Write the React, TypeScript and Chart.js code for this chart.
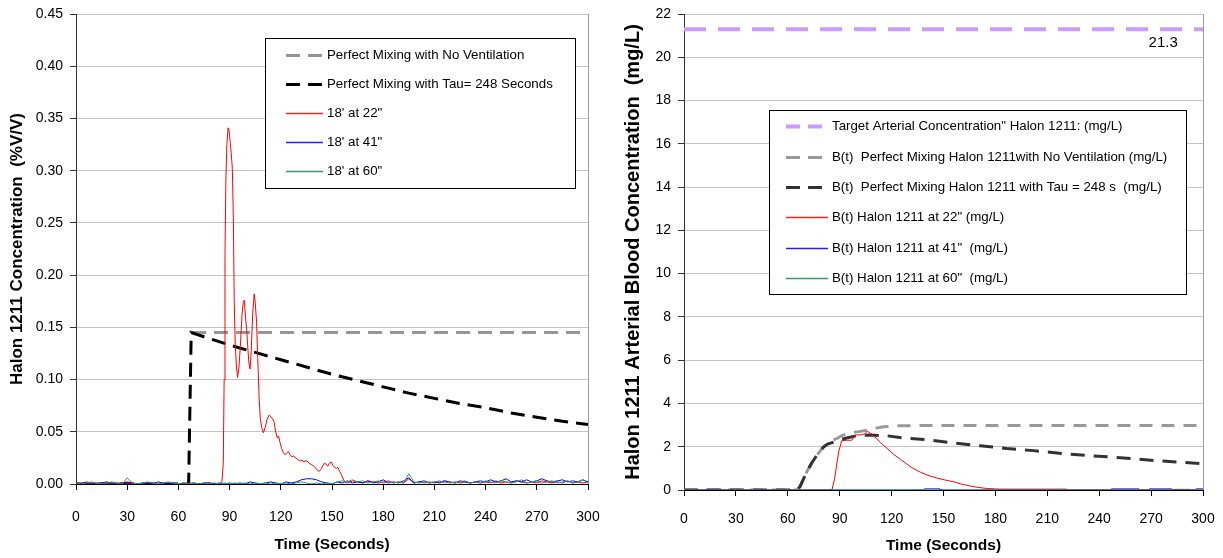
import React, { useEffect, useRef } from "react";
import { Chart, registerables } from "chart.js";

Chart.register(...registerables);

const FONT = '"Liberation Sans", Arial, Helvetica, sans-serif';

// ---------- shared axis values ----------
const X_MIN = 0;
const X_MAX = 300;
const X_STEP = 30;

// ---------- LEFT chart: Halon 1211 concentration (%V/V) ----------
const LEFT_Y_MAX = 0.45;
const LEFT_Y_STEP = 0.05;

const leftLabels = [
  "Perfect Mixing with No Ventilation",
  "Perfect Mixing with Tau= 248 Seconds",
  "18' at 22\"",
  "18' at 41\"",
  "18' at 60\"",
];

const noVentLeft: [number, number][] = [
  [68, 0.145],
  [300, 0.145],
];

const tauLeft: [number, number][] = [
  [0, 0], [66, 0], [67.5, 0.145], [75, 0.141], [90, 0.133], [105, 0.126], [120, 0.119],
  [135, 0.112], [150, 0.105], [165, 0.099], [180, 0.093], [195, 0.087], [210, 0.082],
  [225, 0.077], [240, 0.073], [255, 0.068], [270, 0.064], [285, 0.060], [300, 0.057],
];

const red22Left: [number, number][] = [
  [0, 0.001], [6, 0.0], [12, 0.001], [18, 0.0], [24, 0.001], [30, 0.001], [36, 0.0], [42, 0.001],
  [48, 0.0], [54, 0.001], [60, 0.0], [66, 0.001], [72, 0.0], [78, 0.001], [84, 0.0],
  [85.5, 0.002], [86.3, 0.02], [86.8, 0.1], [87.3, 0.22], [87.8, 0.29], [88.4, 0.325], [89.1, 0.341],
  [89.7, 0.338], [90.3, 0.328], [91, 0.316], [91.6, 0.302], [92.2, 0.255], [92.7, 0.175], [93.3, 0.135],
  [94, 0.112], [94.7, 0.102], [95.5, 0.112], [96.5, 0.138], [97.3, 0.163], [98, 0.174], [98.6, 0.176],
  [99.3, 0.16], [100, 0.148], [100.6, 0.132], [101.3, 0.116], [102, 0.11], [102.7, 0.128], [103.5, 0.162],
  [104.4, 0.182], [105, 0.174], [105.8, 0.155], [106.5, 0.12], [107.3, 0.082], [108, 0.062], [109, 0.053],
  [109.8, 0.049], [110.8, 0.054], [112, 0.062], [113.2, 0.066], [114.5, 0.064], [116, 0.06], [117, 0.05],
  [118, 0.044], [118.7, 0.046], [119.5, 0.04], [120.5, 0.034], [121.5, 0.03], [122.5, 0.028], [123.5, 0.03],
  [124.5, 0.031], [125.5, 0.028], [126.5, 0.026], [127.5, 0.027], [128.5, 0.025], [129.5, 0.024],
  [130.5, 0.023], [131.5, 0.022], [132.5, 0.023], [133.5, 0.021], [134.5, 0.022], [135.5, 0.022],
  [136.5, 0.02], [137.5, 0.019], [138.5, 0.018], [139.5, 0.017], [140.5, 0.015], [141.5, 0.013],
  [142.5, 0.012], [143.5, 0.014], [144.5, 0.017], [145.5, 0.02], [146.5, 0.019], [147.5, 0.017],
  [148.5, 0.02], [149.5, 0.021], [150.5, 0.018], [151.5, 0.016], [152.5, 0.015], [153.5, 0.016],
  [154.5, 0.012], [155.5, 0.009], [156.5, 0.005], [157.5, 0.002], [159, 0.001],
  [162, 0.003], [165, 0.002], [168, 0.001], [171, 0.003], [174, 0.002], [177, 0.001], [180, 0.002],
  [183, 0.003], [186, 0.001], [189, 0.002], [192, 0.001], [195, 0.005], [198, 0.001], [201, 0.002],
  [204, 0.001], [207, 0.002], [210, 0.001], [213, 0.002], [216, 0.003], [219, 0.001], [222, 0.002],
  [225, 0.001], [228, 0.002], [231, 0.001], [234, 0.002], [237, 0.001], [240, 0.002], [243, 0.001],
  [246, 0.003], [249, 0.001], [252, 0.002], [255, 0.001], [258, 0.003], [261, 0.002], [264, 0.001],
  [267, 0.002], [270, 0.001], [273, 0.003], [276, 0.002], [279, 0.001], [282, 0.002], [285, 0.001],
  [288, 0.003], [291, 0.001], [294, 0.002], [297, 0.001], [300, 0.002],
];

const noiseTimes = [
  0, 3, 6, 9, 12, 15, 18, 21, 24, 27,
  30, 33, 36, 39, 42, 45, 48, 51, 54, 57,
  60, 63, 66, 69, 72, 75, 78, 81, 84, 87,
  90, 93, 96, 99, 102, 105, 108, 111, 114, 117,
  120, 123, 126, 129, 132, 135, 138, 141, 144, 147,
  150, 153, 156, 159, 162, 165, 168, 171, 174, 177,
  180, 183, 186, 189, 192, 195, 198, 201, 204, 207,
  210, 213, 216, 219, 222, 225, 228, 231, 234, 237,
  240, 243, 246, 249, 252, 255, 258, 261, 264, 267,
  270, 273, 276, 279, 282, 285, 288, 291, 294, 297,
  300,
];

const blue41Left = [
  0.001, 0.0, 0.002, 0.001, 0.0, 0.001, 0.002, 0.001, 0.0, 0.001,
  0.002, 0.001, 0.0, 0.001, 0.001, 0.0, 0.002, 0.001, 0.0, 0.001,
  0.0, 0.001, 0.0, 0.001, 0.0, 0.001, 0.001, 0.0, 0.001, 0.0,
  0.001, 0.0, 0.001, 0.0, 0.002, 0.001, 0.0, 0.001, 0.002, 0.001,
  0.0, 0.002, 0.001, 0.002, 0.004, 0.005, 0.005, 0.004, 0.002, 0.001,
  0.0, 0.002, 0.001, 0.003, 0.001, 0.002, 0.001, 0.003, 0.001, 0.002,
  0.004, 0.001, 0.002, 0.001, 0.003, 0.006, 0.001, 0.002, 0.003, 0.001,
  0.002, 0.001, 0.003, 0.002, 0.001, 0.003, 0.002, 0.001, 0.002, 0.003,
  0.002, 0.004, 0.002, 0.003, 0.005, 0.002, 0.003, 0.002, 0.004, 0.002,
  0.003, 0.005, 0.003, 0.002, 0.003, 0.004, 0.002, 0.003, 0.002, 0.004,
  0.002,
];

const green60Left = [
  0.001, 0.0, 0.001, 0.002, 0.001, 0.0, 0.001, 0.002, 0.001, 0.0,
  0.006, 0.001, 0.0, 0.001, 0.002, 0.001, 0.0, 0.001, 0.002, 0.001,
  0.0, 0.001, 0.0, 0.001, 0.0, 0.001, 0.0, 0.001, 0.0, 0.001,
  0.0, 0.001, 0.0, 0.001, 0.0, 0.001, 0.0, 0.001, 0.0, 0.001,
  0.0, 0.001, 0.0, 0.001, 0.002, 0.001, 0.0, 0.001, 0.0, 0.001,
  0.0, 0.002, 0.003, 0.002, 0.004, 0.002, 0.003, 0.001, 0.002, 0.003,
  0.001, 0.002, 0.001, 0.002, 0.001, 0.01, 0.002, 0.001, 0.002, 0.001,
  0.002, 0.003, 0.001, 0.002, 0.001, 0.002, 0.003, 0.001, 0.002, 0.001,
  0.003, 0.002, 0.001, 0.003, 0.002, 0.001, 0.002, 0.004, 0.001, 0.002,
  0.003, 0.001, 0.002, 0.003, 0.001, 0.002, 0.003, 0.001, 0.002, 0.004,
  0.001,
];

// ---------- RIGHT chart: arterial blood concentration (mg/L) ----------
const RIGHT_Y_MAX = 22;
const RIGHT_Y_STEP = 2;
const TARGET_VALUE = 21.3;
const TARGET_TEXT = "21.3";
const TARGET_TEXT_AT: [number, number] = [277, 20.66];

const rightLabels = [
  "Target Arterial Concentration\" Halon 1211: (mg/L)",
  "B(t)  Perfect Mixing Halon 1211with No Ventilation (mg/L)",
  "B(t)  Perfect Mixing Halon 1211 with Tau = 248 s  (mg/L)",
  "B(t) Halon 1211 at 22\" (mg/L)",
  "B(t) Halon 1211 at 41\"  (mg/L)",
  "B(t) Halon 1211 at 60\"  (mg/L)",
];

const targetRight: [number, number][] = [
  [0, TARGET_VALUE],
  [300, TARGET_VALUE],
];

const noVentRight: [number, number][] = [
  [0, 0], [65, 0], [67, 0.15], [69, 0.5], [71, 0.85], [74, 1.27], [77, 1.63], [80.5, 1.98],
  [83, 2.15], [86, 2.3], [88.3, 2.38], [91, 2.5], [94, 2.59], [98, 2.66], [102, 2.71],
  [107.7, 2.79], [111, 2.86], [115.4, 2.92], [120, 2.95], [123, 2.97], [140, 2.98], [300, 2.98],
];

const tauRight: [number, number][] = [
  [0, 0], [65, 0], [67, 0.15], [69, 0.5], [71, 0.85], [74, 1.27], [77, 1.63], [80.5, 1.97],
  [83, 2.12], [87.4, 2.24], [90, 2.32], [94, 2.4], [99.7, 2.51], [107.7, 2.54], [117, 2.51],
  [126.7, 2.4], [142.4, 2.31], [155.8, 2.17], [171, 2.05], [186.6, 1.92], [202, 1.82],
  [221.7, 1.66], [248.8, 1.51], [273.9, 1.35], [300, 1.22],
];

const red22Right: [number, number][] = [
  [0, 0], [85.5, 0], [87, 0.5], [88.3, 1.2], [89.5, 1.8], [91.2, 2.28], [94, 2.3], [97, 2.3],
  [99, 2.54], [102.8, 2.55], [104.5, 2.6], [106, 2.72], [107, 2.66], [108.5, 2.58], [111, 2.4],
  [113.4, 2.2], [117, 1.95], [121, 1.66], [125, 1.42], [128.8, 1.2], [132, 1.02], [136.7, 0.82],
  [141, 0.68], [146.3, 0.55], [151, 0.46], [155.8, 0.38], [160, 0.28], [165.6, 0.18], [170, 0.12],
  [175, 0.07], [180, 0.05], [183, 0.04], [221, 0.04], [222, 0], [283, 0], [284, 0.03], [292, 0.03],
  [293, 0], [300, 0],
];

const blue41Right: [number, number][] = [
  [0, 0], [138.5, 0], [139, 0.05], [148, 0.05], [148.5, 0], [246.5, 0], [247, 0.05], [263, 0.05],
  [263.5, 0], [268.5, 0], [269, 0.05], [282, 0.05], [282.5, 0], [295.5, 0], [296, 0.05], [300, 0.05],
];

const green60Right: [number, number][] = [
  [0, 0],
  [300, 0],
];

// ---------- helpers ----------
const pairs = (p: [number, number][]) => p.map(([x, y]) => ({ x, y }));
const zipped = (xs: number[], ys: number[]) => xs.map((x, i) => ({ x, y: ys[i] }));

type LegendCfg = {
  box: { x: number; y: number; w: number; h: number };
  rows: number[];
  sampleX: number;
  sampleW: number;
  textX: number;
  font: string;
  colors: string[];
  widths: number[];
  dashes: number[][];
};

function boxLegend(cfg: LegendCfg) {
  return {
    id: "boxLegend",
    afterDatasetsDraw(chart: any) {
      const ctx = chart.ctx as CanvasRenderingContext2D;
      const { box, rows, sampleX, sampleW, textX, font, colors, widths, dashes } = cfg;
      ctx.save();
      ctx.fillStyle = "#ffffff";
      ctx.fillRect(box.x, box.y, box.w, box.h);
      ctx.strokeStyle = "#000000";
      ctx.lineWidth = 1;
      ctx.setLineDash([]);
      ctx.strokeRect(box.x + 0.5, box.y + 0.5, box.w, box.h);
      chart.data.datasets.forEach((ds: any, i: number) => {
        const y = Math.round(rows[i]) + 0.5;
        ctx.beginPath();
        ctx.setLineDash(dashes[i]);
        ctx.lineDashOffset = 0;
        ctx.strokeStyle = colors[i];
        ctx.lineWidth = widths[i];
        ctx.lineCap = "butt";
        ctx.moveTo(sampleX, y);
        ctx.lineTo(sampleX + sampleW, y);
        ctx.stroke();
        ctx.setLineDash([]);
        ctx.fillStyle = "#000000";
        ctx.font = font;
        ctx.textAlign = "left";
        ctx.textBaseline = "middle";
        ctx.fillText(ds.label, textX, y);
      });
      ctx.restore();
    },
  };
}

const frameRight = {
  id: "frameRight",
  beforeDatasetsDraw(chart: any) {
    const { ctx, chartArea } = chart;
    ctx.save();
    ctx.strokeStyle = "#a0a0a0";
    ctx.lineWidth = 1;
    ctx.beginPath();
    const x = Math.round(chartArea.right) + 0.5;
    ctx.moveTo(x, chartArea.top);
    ctx.lineTo(x, chartArea.bottom);
    ctx.stroke();
    ctx.restore();
  },
};

function valueText(text: string, at: [number, number]) {
  return {
    id: "valueText",
    afterDatasetsDraw(chart: any) {
      const { ctx, scales } = chart;
      ctx.save();
      ctx.fillStyle = "#000";
      ctx.font = `15px ${FONT}`;
      ctx.textAlign = "center";
      ctx.textBaseline = "middle";
      ctx.fillText(text, scales.x.getPixelForValue(at[0]), scales.y.getPixelForValue(at[1]));
      ctx.restore();
    },
  };
}

function scalesFor(opts: {
  yMax: number;
  yStep: number;
  yDecimals: number;
  yTitle: string;
  yTitleSize: number;
  yTitlePad: number;
  yWidth: number;
  xHeight: number;
  xLabelPad: number;
  xTitlePad: number;
}) {
  return {
    x: {
      type: "linear",
      min: X_MIN,
      max: X_MAX,
      ticks: {
        stepSize: X_STEP,
        color: "#000",
        padding: opts.xLabelPad,
        font: { size: 14, family: FONT },
        maxRotation: 0,
        autoSkip: false,
      },
      grid: { drawOnChartArea: false, drawTicks: true, tickLength: 6, tickColor: "#000" },
      border: { display: true, color: "#000", width: 1 },
      title: {
        display: true,
        text: "Time (Seconds)",
        color: "#000",
        font: { size: 15.5, weight: "bold", family: FONT },
        padding: { top: 0, bottom: opts.xTitlePad },
      },
      afterFit: (s: any) => {
        s.height = opts.xHeight;
        s.paddingLeft = 0;
        s.paddingRight = 0;
      },
    },
    y: {
      type: "linear",
      min: 0,
      max: opts.yMax,
      ticks: {
        stepSize: opts.yStep,
        color: "#000",
        padding: 7,
        font: { size: 14, family: FONT },
        callback: (v: any) => Number(v).toFixed(opts.yDecimals),
      },
      grid: { color: "#c4c4c4", lineWidth: 1, tickLength: 6, tickColor: "#333" },
      border: { display: true, color: "#333", width: 1 },
      title: {
        display: true,
        text: opts.yTitle,
        color: "#000",
        font: { size: opts.yTitleSize, weight: "bold", family: FONT },
        padding: { top: opts.yTitlePad, bottom: 0 },
      },
      afterFit: (s: any) => {
        s.width = opts.yWidth;
        s.paddingTop = 0;
        s.paddingBottom = 0;
      },
    },
  };
}

const baseLine = { pointRadius: 0, pointHoverRadius: 0, fill: false, tension: 0, borderCapStyle: "butt" };

function LeftChart() {
  const ref = useRef<HTMLCanvasElement>(null);
  useEffect(() => {
    if (!ref.current) return;
    const datasets = [
      { ...baseLine, label: leftLabels[0], data: pairs(noVentLeft), borderColor: "#969696", borderWidth: 3, borderDash: [14, 8], order: 5 },
      { ...baseLine, label: leftLabels[1], data: pairs(tauLeft), borderColor: "#000000", borderWidth: 3, borderDash: [14, 8], order: 4 },
      { ...baseLine, label: leftLabels[2], data: pairs(red22Left), borderColor: "#ff0000", borderWidth: 1, order: 3 },
      { ...baseLine, label: leftLabels[3], data: zipped(noiseTimes, blue41Left), borderColor: "#0000ff", borderWidth: 1, order: 2 },
      { ...baseLine, label: leftLabels[4], data: zipped(noiseTimes, green60Left), borderColor: "#339966", borderWidth: 1, order: 1 },
    ];
    const chart = new Chart(ref.current, {
      type: "line",
      data: { datasets } as any,
      options: {
        responsive: false,
        animation: false,
        events: [],
        layout: { padding: { left: 0, right: 12, top: 14, bottom: 0 } },
        plugins: { legend: { display: false }, tooltip: { enabled: false }, title: { display: false } },
        scales: scalesFor({
          yMax: LEFT_Y_MAX,
          yStep: LEFT_Y_STEP,
          yDecimals: 2,
          yTitle: "Halon 1211 Concentration  (%V/V)",
          yTitleSize: 17,
          yTitlePad: 7,
          yWidth: 76,
          xHeight: 74,
          xLabelPad: 19,
          xTitlePad: 4,
        }) as any,
      },
      plugins: [
        frameRight,
        boxLegend({
          box: { x: 265, y: 38, w: 310, h: 150 },
          rows: [54.5, 83.6, 112.7, 141.8, 170.9],
          sampleX: 286,
          sampleW: 37,
          textX: 327,
          font: `13.3px ${FONT}`,
          colors: ["#969696", "#000000", "#ff2020", "#2020ff", "#339966"],
          widths: [3, 3, 1.5, 1.5, 1.5],
          dashes: [[14, 8], [14, 8], [], [], []],
        }),
      ],
    } as any);
    return () => chart.destroy();
  }, []);
  return <canvas ref={ref} width={600} height={558} style={{ position: "absolute", left: 0, top: 0, width: 600, height: 558 }} />;
}

function RightChart() {
  const ref = useRef<HTMLCanvasElement>(null);
  useEffect(() => {
    if (!ref.current) return;
    const datasets = [
      { ...baseLine, label: rightLabels[0], data: pairs(targetRight), borderColor: "#cc99ff", borderWidth: 4, borderDash: [22, 12], order: 6 },
      { ...baseLine, label: rightLabels[1], data: pairs(noVentRight), borderColor: "#999999", borderWidth: 3, borderDash: [13, 9], order: 5 },
      { ...baseLine, label: rightLabels[2], data: pairs(tauRight), borderColor: "#333333", borderWidth: 3, borderDash: [14, 9], order: 4 },
      { ...baseLine, label: rightLabels[3], data: pairs(red22Right), borderColor: "#ff0000", borderWidth: 1, order: 3 },
      { ...baseLine, label: rightLabels[4], data: pairs(blue41Right), borderColor: "#0000ff", borderWidth: 1, order: 2 },
      { ...baseLine, label: rightLabels[5], data: pairs(green60Right), borderColor: "#339966", borderWidth: 1, order: 1 },
    ];
    const chart = new Chart(ref.current, {
      type: "line",
      data: { datasets } as any,
      options: {
        responsive: false,
        animation: false,
        events: [],
        layout: { padding: { left: 0, right: 20, top: 14, bottom: 0 } },
        plugins: { legend: { display: false }, tooltip: { enabled: false }, title: { display: false } },
        scales: scalesFor({
          yMax: RIGHT_Y_MAX,
          yStep: RIGHT_Y_STEP,
          yDecimals: 0,
          yTitle: "Halon 1211 Arterial Blood Concentration  (mg/L)",
          yTitleSize: 20,
          yTitlePad: 11,
          yWidth: 74,
          xHeight: 68,
          xLabelPad: 15,
          xTitlePad: 3,
        }) as any,
      },
      plugins: [
        frameRight,
        valueText(TARGET_TEXT, TARGET_TEXT_AT),
        boxLegend({
          box: { x: 159, y: 110, w: 417, h: 184 },
          rows: [126.4, 156.7, 187, 217.3, 247.6, 278],
          sampleX: 176,
          sampleW: 42,
          textX: 222,
          font: `13.3px ${FONT}`,
          colors: ["#cc99ff", "#999999", "#333333", "#ff2020", "#2020ff", "#339966"],
          widths: [4, 3, 3, 1.5, 1.5, 1.5],
          dashes: [[14, 8], [14, 8], [14, 8], [], [], []],
        }),
      ],
    } as any);
    return () => chart.destroy();
  }, []);
  return <canvas ref={ref} width={613} height={558} style={{ position: "absolute", left: 610, top: 0, width: 613, height: 558 }} />;
}

export default function App() {
  return (
    <div style={{ position: "absolute", left: 0, top: 0, width: 1223, height: 558, background: "#fff", overflow: "hidden" }}>
      <LeftChart />
      <RightChart />
    </div>
  );
}
